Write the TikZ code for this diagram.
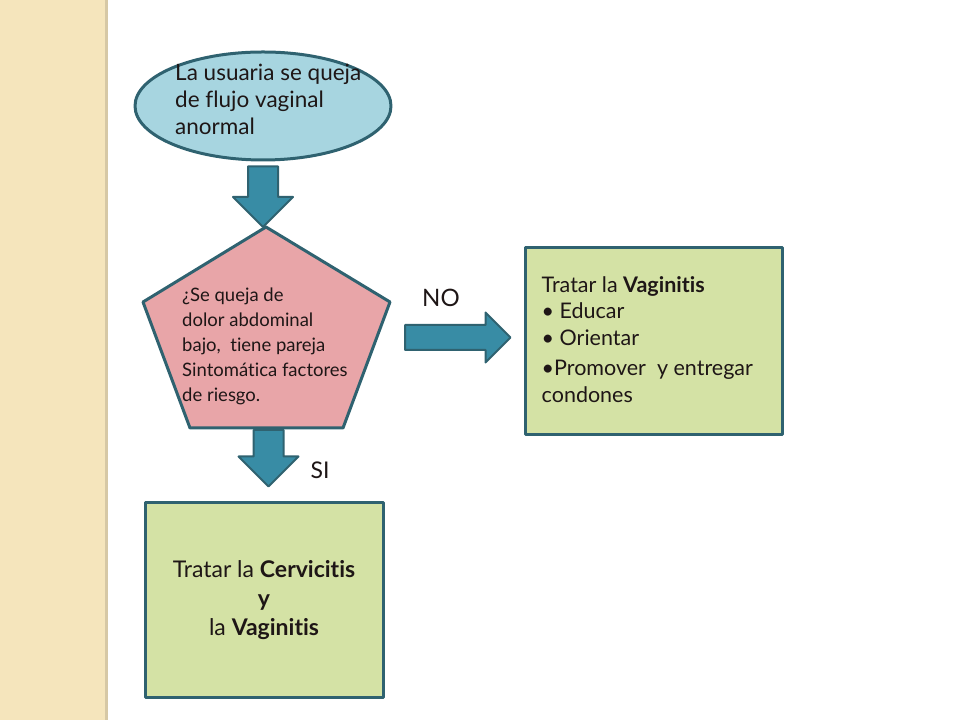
\documentclass[tikz,border=0pt]{standalone}
\usepackage{fontspec}
\setmainfont{Lato}[Ligatures=NoCommon]
\usetikzlibrary{positioning,calc,shapes.geometric}
\definecolor{borde}{RGB}{47,98,112}
\definecolor{flechac}{RGB}{56,140,165}
\definecolor{azulclaro}{RGB}{167,213,224}
\definecolor{rosa}{RGB}{232,165,168}
\definecolor{verde}{RGB}{212,226,165}
\definecolor{beige}{RGB}{245,229,188}
\definecolor{sombra}{RGB}{214,200,165}
\definecolor{tinta}{RGB}{30,22,22}
% flecha de bloque hacia abajo / hacia la derecha
\newcommand{\flechav}[2]{\draw[flecha] let \p1=(#1),\p2=(#2) in (\x1-15pt,\y1)--(\x1+15pt,\y1)--(\x1+15pt,\y2+30pt)--(\x1+30pt,\y2+30pt)--(\x1,\y2)--(\x1-30pt,\y2+30pt)--(\x1-15pt,\y2+30pt)--cycle;}
\newcommand{\flechah}[2]{\draw[flecha] let \p1=(#1),\p2=(#2) in (\x1,\y1+12.5pt)--(\x2-25pt,\y1+12.5pt)--(\x2-25pt,\y1+25pt)--(\x2,\y1)--(\x2-25pt,\y1-25pt)--(\x2-25pt,\y1-12.5pt)--(\x1,\y1-12.5pt)--cycle;}
\begin{document}
\begin{tikzpicture}[x=1pt,y=1pt,line join=round,text=tinta,
	flecha/.style={fill=flechac,draw=borde,line width=2pt},
	caja/.style={draw=borde,fill=verde,line width=3pt},
	texto/.style={inner sep=0pt,align=left,font=\fontsize{22.5}{27}\selectfont}]
	\useasboundingbox (0,0) rectangle (960,720);
	\fill[beige] (0,0) rectangle (105,720);
	\fill[sombra] (105,0) rectangle (108,720);
	\node[ellipse,draw=borde,fill=azulclaro,line width=3pt,minimum width=256pt,minimum height=108pt,inner sep=0pt] (usuaria) at (263,614) {};
	\node[texto,anchor=north west] (usuariatxt) at (175,656) {La usuaria se queja\\de flujo vaginal\\anormal};
	% pentagono
	\coordinate (p1) at (266,493); \coordinate (p2) at (390,418); \coordinate (p3) at (343,292);
	\coordinate (p4) at (190,292); \coordinate (p5) at (143,418);
	\draw[fill=rosa,draw=borde,line width=3pt] (p1)--(p2)--(p3)--(p4)--(p5)--cycle;
	\node[texto,anchor=north west,font=\fontsize{18.5}{25}\selectfont] (pregunta) at (182,432) {¿Se queja de\\dolor abdominal\\bajo,\ \ tiene pareja\\Sintomática factores\\de riesgo.};
	\node[caja,minimum width=238pt,minimum height=194pt,align=center,font=\fontsize{23}{29}\selectfont] (cervicitis) at (264,120) {Tratar la \textbf{Cervicitis}\\\textbf{y}\\la \textbf{Vaginitis}};
	\node[caja,minimum width=257pt,minimum height=187pt] (vaginitis) at (653.5,378.5) {};
	\node[texto,anchor=west,font=\fontsize{21.5}{26.5}\selectfont] (vaginitistxt) at ([xshift=18pt,yshift=2pt]vaginitis.west) {Tratar la \textbf{Vaginitis}\\• Educar\\• Orientar\\[4pt]•Promover\ \ y entregar\\condones};
	\coordinate (a0) at ([yshift=-5pt]usuaria.south);
	\coordinate (b0) at ($(p3)!0.5!(p4)+(2,-2)$); \coordinate (b1) at ([yshift=15pt]cervicitis.north -| b0);
	\coordinate (c0) at (405,382.5); \coordinate (c1) at ([xshift=-13pt]vaginitis.west |- c0);
	\flechav{a0}{p1}
	\flechav{b0}{b1}
	\flechah{c0}{c1}
	\node[font=\fontsize{24}{24}\selectfont] (no) at (441,422) {NO};
	\node[font=\fontsize{23}{23}\selectfont] (si) at (320,250) {SI};
\end{tikzpicture}
\end{document}
